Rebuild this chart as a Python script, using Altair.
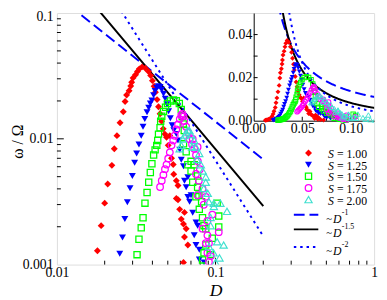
import altair as alt
import pandas as pd

# ---------------- data ----------------
series_labels = ["1.00", "1.25", "1.50", "1.75", "2.00"]

D_100 = [0.012, 0.013, 0.014, 0.015, 0.016, 0.017, 0.0180, 0.0190, 0.0200, 0.0209, 0.0222, 0.0230, 0.0239,
         0.0250, 0.0262, 0.0269, 0.0275, 0.0285, 0.0292, 0.0296, 0.0302, 0.0313, 0.0322, 0.0331, 0.0344,
         0.0361, 0.0378, 0.0390, 0.0400, 0.0410, 0.0418, 0.0428, 0.0437, 0.0447, 0.0457,
         0.0468, 0.0479, 0.0491, 0.0503, 0.0515, 0.0528, 0.0541, 0.0545, 0.0566, 0.0580,
         0.0566, 0.0580, 0.0594, 0.0608, 0.0628, 0.0653, 0.0637, 0.0669, 0.0628, 0.0637,
         0.066, 0.069, 0.072]
W_100 = [0.0002, 0.0003, 0.0004, 0.0006, 0.0008, 0.0009, 0.00129, 0.00204, 0.00308, 0.00438, 0.00615, 0.00835, 0.0106,
         0.0134, 0.0164, 0.0198, 0.0223, 0.0241, 0.0263, 0.0282, 0.0305, 0.0323, 0.0343, 0.0360, 0.0373,
         0.0364, 0.0343, 0.0318, 0.0290, 0.0262, 0.0235, 0.0205, 0.0180, 0.0158, 0.0138,
         0.0120, 0.0109, 0.0103, 0.00887, 0.0106, 0.0070, 0.00624, 0.00523, 0.00465, 0.00425,
         0.00336, 0.00328, 0.00275, 0.00230, 0.00210, 0.00193, 0.00166, 0.00143, 0.00104, 0.0026,
         0.0007, 0.0005, 0.0003]

D_125 = [0.020, 0.021, 0.022, 0.023, 0.024, 0.0249, 0.0259, 0.0268, 0.0278, 0.0289, 0.0299, 0.0309, 0.0318,
         0.0329, 0.0340, 0.0349, 0.0358, 0.0370, 0.0379, 0.0388, 0.0397, 0.0407, 0.0416, 0.0426, 0.0436,
         0.0447, 0.0458, 0.0470, 0.0482, 0.0494, 0.0506, 0.0519, 0.0532, 0.0546, 0.0566,
         0.0580, 0.0595, 0.0608, 0.0628, 0.0637, 0.0653, 0.0669, 0.0669, 0.0686, 0.0701,
         0.0718, 0.0753, 0.0771, 0.0734, 0.0753, 0.0790, 0.0790, 0.0846, 0.085, 0.088]
W_125 = [0.0002, 0.0003, 0.0005, 0.0007, 0.0009, 0.00122, 0.00164, 0.00230, 0.00313, 0.00405, 0.00507, 0.00646, 0.00765,
         0.00903, 0.01058, 0.01247, 0.01436, 0.01626, 0.01765, 0.0191, 0.0202, 0.0222, 0.0240, 0.0255, 0.0262,
         0.0258, 0.0245, 0.0228, 0.0208, 0.0188, 0.0166, 0.0146, 0.0128, 0.0117, 0.0109,
         0.00969, 0.0082, 0.00682, 0.00605, 0.00465, 0.00412, 0.00494, 0.00345, 0.00316, 0.00356,
         0.00258, 0.00216, 0.00204, 0.00171, 0.00143, 0.00131, 0.00110, 0.00104, 0.0007, 0.0004]

D_150 = [0.025, 0.026, 0.027, 0.028, 0.029, 0.030, 0.031, 0.0320, 0.0329, 0.0340,
         0.0349, 0.0359, 0.0370, 0.0379, 0.0388, 0.0397, 0.0407, 0.0416, 0.0426, 0.0432,
         0.0437, 0.0447, 0.0451, 0.0458, 0.0470, 0.0484, 0.0498, 0.0520, 0.0543,
         0.0566, 0.0591, 0.0608, 0.0617, 0.0626, 0.0635, 0.0628, 0.0653, 0.0669, 0.0701,
         0.0701, 0.0718, 0.0771, 0.0734, 0.0771, 0.0753, 0.0785, 0.0817, 0.0790, 0.0828,
         0.0846, 0.0868, 0.1024, 0.1048, 0.1048, 0.0954, 0.0868, 0.0931, 0.0846, 0.0828,
         0.088, 0.092, 0.095]
W_150 = [0.0002, 0.0003, 0.0004, 0.0005, 0.0006, 0.0008, 0.0009, 0.00120, 0.00159, 0.00196,
         0.00236, 0.00308, 0.00374, 0.00451, 0.00540, 0.00634, 0.00743, 0.00817, 0.00887, 0.00969,
         0.0109, 0.01225, 0.0138, 0.0151, 0.0165, 0.0178, 0.0191, 0.0200, 0.0204,
         0.0201, 0.0191, 0.0171, 0.0151, 0.01315, 0.01162, 0.00912, 0.00790, 0.00623, 0.00662,
         0.00555, 0.00451, 0.00507, 0.00623, 0.00412, 0.00346, 0.00356, 0.00316, 0.00275, 0.00236,
         0.00204, 0.00193, 0.00308, 0.00243, 0.00199, 0.00162, 0.00143, 0.00120, 0.00124, 0.00109,
         0.0007, 0.0004, 0.0002]

D_175 = [0.0447, 0.0458, 0.0469, 0.0480, 0.0491, 0.0503, 0.0515, 0.0528, 0.0541, 0.0553, 0.0566, 0.0580,
         0.0595, 0.0608, 0.0618,
         0.0628, 0.0635, 0.0653, 0.0672, 0.0684, 0.0718, 0.0711, 0.0734, 0.0771, 0.0753,
         0.0774, 0.0753, 0.0797, 0.0785, 0.0828, 0.0771, 0.0868, 0.0843, 0.0954, 0.0889,
         0.0828, 0.0889, 0.1048, 0.0909, 0.0868, 0.0889, 0.0931, 0.0909, 0.092, 0.096]
W_175 = [0.00414, 0.00465, 0.00516, 0.00574, 0.00624, 0.00697, 0.00781, 0.00887, 0.00969, 0.01058, 0.01189, 0.01299,
         0.01436, 0.0154, 0.0158,
         0.0151, 0.01386, 0.01247, 0.01122, 0.00997, 0.00997, 0.00907, 0.00835, 0.00861, 0.00743,
         0.00662, 0.00525, 0.00574, 0.00465, 0.00401, 0.00356, 0.00346, 0.00299, 0.00250, 0.00222,
         0.00193, 0.00171, 0.00181, 0.00148, 0.00148, 0.00124, 0.00117, 0.00105, 0.0007, 0.0004]

D_200 = [0.0594, 0.0608, 0.0622, 0.0637, 0.0653, 0.0669,
         0.0684, 0.0701, 0.0734, 0.0711, 0.0753, 0.0790, 0.0763, 0.0808, 0.0831, 0.0868,
         0.0868, 0.0843, 0.0893, 0.0909, 0.0976, 0.1073, 0.1181, 0.0976, 0.0931, 0.0931,
         0.1024, 0.0909, 0.1125, 0.0971, 0.1000, 0.1059, 0.115, 0.120, 0.125]
W_200 = [0.00835, 0.00887, 0.00997, 0.0106, 0.0112, 0.0117,
         0.01162, 0.01082, 0.00969, 0.00861, 0.00861, 0.00765, 0.00685, 0.00623, 0.00555, 0.00498,
         0.00451, 0.00403, 0.00369, 0.00316, 0.00308, 0.00308, 0.00265, 0.00290, 0.00237, 0.00204,
         0.00152, 0.00139, 0.00143, 0.00124, 0.00104, 0.00113, 0.0007, 0.0005, 0.0003]

# power-law guide lines  omega = c * D^(-k)
fit_labels = ["-1", "-1.5", "-2"]
fit_exponents = [1.0, 1.5, 2.0]
fit_prefactors = [0.00137, 0.000261, 0.0000673]
fit_D_range = [0.01, 0.2]

main_x_ticks = [0.01, 0.1, 1]
main_y_ticks = [0.001, 0.01, 0.1]
minor_x = [0.02, 0.03, 0.04, 0.05, 0.06, 0.07, 0.08, 0.09, 0.2, 0.3, 0.4, 0.5, 0.6, 0.7, 0.8, 0.9]
minor_y = [0.002, 0.003, 0.004, 0.005, 0.006, 0.007, 0.008, 0.009, 0.02, 0.03, 0.04, 0.05, 0.06, 0.07, 0.08, 0.09]
inset_x_labels = [0.0, 0.05, 0.10]
inset_y_labels = [0.0, 0.02, 0.04]
inset_x_ticks = [0.025, 0.05, 0.075, 0.10]
inset_y_ticks = [0.01, 0.02, 0.03, 0.04]

# ---------------- styling / layout ----------------
FONT = "Liberation Serif"
W, H = 324, 257
IN_X0, IN_H = 201, 110

styles = [
    dict(shape="diamond", filled=True, color="#ff0000", size=50, sw=0),
    dict(shape="triangle-down", filled=True, color="#0000ff", size=50, sw=0),
    dict(shape="square", filled=False, color="#00ff00", size=40, sw=1.3),
    dict(shape="circle", filled=False, color="#ff00ff", size=45, sw=1.3),
    dict(shape="triangle-up", filled=False, color="#40e0d0", size=55, sw=1.2),
]
line_styles = [
    dict(color="#0000ff", dash=[11, 5], width=2),
    dict(color="#000000", dash=[1, 0], width=2),
    dict(color="#0000ff", dash=[2.5, 4], width=2),
]

series_D = [D_100, D_125, D_150, D_175, D_200]
series_W = [W_100, W_125, W_150, W_175, W_200]

xs_main = alt.Scale(type="log", domain=[0.01, 1])
ys_main = alt.Scale(type="log", domain=[0.001, 0.1])
xs_in = alt.Scale(domain=[0, 0.124], range=[IN_X0, W], nice=False, zero=False)
ys_in = alt.Scale(domain=[0, 0.05], range=[IN_H, 0], nice=False, zero=False)

ax_mx = alt.Axis(values=main_x_ticks, format="~g", orient="bottom", ticks=False, domain=False, grid=False,
                 labelFont=FONT, labelFontSize=14, labelColor="black", labelPadding=1, labelFlush=False,
                 title="D", titleFont=FONT, titleFontSize=18, titleFontStyle="italic", titleFontWeight="normal",
                 titleColor="black", titleX=W / 2, titleY=27, titleBaseline="middle", titleAlign="center")
ax_my = alt.Axis(values=main_y_ticks, format="~g", orient="left", ticks=False, domain=False, grid=False,
                 labelFont=FONT, labelFontSize=14, labelColor="black", labelPadding=4, labelFlush=False,
                 labelOffset=alt.condition("datum.value > 0.05", alt.value(4), alt.value(0)),
                 title="ω / Ω", titleFont=FONT, titleFontSize=16, titleFontWeight="normal", titleColor="black",
                 titleX=-40, titleY=131, titleAngle=270, titleBaseline="middle", titleAlign="center")
ax_ix = alt.Axis(values=inset_x_labels, format=".2f", orient="bottom", offset=-(H - IN_H), ticks=False,
                 domain=True, domainColor="black", domainWidth=1, grid=False, labelFont=FONT, labelFontSize=14,
                 labelColor="black", labelPadding=1, labelFlush=False, title=None)
ax_iy = alt.Axis(values=inset_y_labels, format=".2f", orient="left", offset=-IN_X0, ticks=False,
                 domain=True, domainColor="black", domainWidth=1, grid=False, labelFont=FONT, labelFontSize=14,
                 labelColor="black", labelPadding=2, labelFlush=False, title=None)


def mx(f="D"):
    return alt.X(f"{f}:Q", scale=xs_main, axis=ax_mx)


def my(f="W"):
    return alt.Y(f"{f}:Q", scale=ys_main, axis=ax_my)


def ix(f="D"):
    return alt.X(f"{f}:Q", scale=xs_in, axis=ax_ix)


def iy(f="W"):
    return alt.Y(f"{f}:Q", scale=ys_in, axis=ax_iy)


dummy = pd.DataFrame({"a": [0]})


def label(txt, x, y, size=12, italic=False):
    kw = dict(font=FONT, fontSize=size, align="left", baseline="middle", color="black")
    if italic:
        kw["fontStyle"] = "italic"
    return alt.Chart(dummy).mark_text(**kw).encode(x=alt.value(x), y=alt.value(y), text=alt.value(txt))


# ---------------- main plot ----------------
main_layers = []

# inward ticks
for vals, ln in [([0.1], 7), (minor_x, 4)]:
    main_layers.append(alt.Chart(pd.DataFrame({"D": vals})).mark_rule(color="black", strokeWidth=1)
                       .encode(x=mx(), y=alt.value(H), y2=alt.value(H - ln)))
for vals, ln in [([0.01], 7), (minor_y, 4)]:
    main_layers.append(alt.Chart(pd.DataFrame({"W": vals})).mark_rule(color="black", strokeWidth=1)
                       .encode(y=my(), x=alt.value(0), x2=alt.value(ln)))

# guide lines
for c, k, ls in zip(fit_prefactors, fit_exponents, line_styles):
    df = pd.DataFrame({"D": fit_D_range, "W": [c * d ** (-k) for d in fit_D_range]})
    main_layers.append(alt.Chart(df).mark_line(color=ls["color"], strokeDash=ls["dash"], strokeWidth=ls["width"],
                                               clip=True).encode(x=mx(), y=my()))

# scatter series
for Ds, Ws, st in zip(series_D, series_W, styles):
    df = pd.DataFrame({"D": Ds, "W": Ws})
    main_layers.append(alt.Chart(df).mark_point(shape=st["shape"], filled=st["filled"], color=st["color"],
                                                size=st["size"], strokeWidth=st["sw"], opacity=1, clip=True)
                       .encode(x=mx(), y=my()))

# legend
LX_MARK, LX_TEXT, LX_EQ = 257, 277, 286
row_y0, row_dy = 143, 11.9
for i, (lab, st) in enumerate(zip(series_labels, styles)):
    yy = row_y0 + i * row_dy
    main_layers.append(alt.Chart(dummy).mark_point(shape=st["shape"], filled=st["filled"], color=st["color"],
                                                   size=st["size"], strokeWidth=st["sw"], opacity=1)
                       .encode(x=alt.value(LX_MARK), y=alt.value(yy)))
    main_layers.append(label("S", LX_TEXT, yy + 1, italic=True))
    main_layers.append(label("= " + lab, LX_EQ, yy + 1))

line_rows = [206, 221, 239]
for lab, ls, yy in zip(fit_labels, line_styles, line_rows):
    main_layers.append(alt.Chart(dummy).mark_rule(color=ls["color"], strokeDash=ls["dash"], strokeWidth=ls["width"])
                       .encode(x=alt.value(242), x2=alt.value(267), y=alt.value(yy)))
    main_layers.append(label("~", 275, yy + 4, size=11))
    main_layers.append(label("D", 282, yy + 4, size=12, italic=True))
    main_layers.append(label(lab, 291, yy - 2, size=8))

main = alt.layer(*main_layers)

# ---------------- inset ----------------
inset_layers = []
inset_layers.append(alt.Chart(pd.DataFrame({"D": inset_x_ticks})).mark_rule(color="black", strokeWidth=1)
                    .encode(x=ix(), y=alt.value(IN_H), y2=alt.value(IN_H - 4)))
inset_layers.append(alt.Chart(pd.DataFrame({"W": inset_y_ticks})).mark_rule(color="black", strokeWidth=1)
                    .encode(y=iy(), x=alt.value(IN_X0), x2=alt.value(IN_X0 + 4)))

for c, k, ls in zip(fit_prefactors, fit_exponents, line_styles):
    inset_layers.append(alt.Chart(alt.sequence(0.02, 0.13, 0.0005, as_="D"))
                        .transform_calculate(W=f"{c} * pow(datum.D, {-k})")
                        .mark_line(color=ls["color"], strokeDash=ls["dash"], strokeWidth=ls["width"], clip=True)
                        .encode(x=ix(), y=iy()))

for Ds, Ws, st in zip(series_D, series_W, styles):
    df = pd.DataFrame({"D": Ds, "W": Ws})
    inset_layers.append(alt.Chart(df).mark_point(shape=st["shape"], filled=st["filled"], color=st["color"],
                                                 size=st["size"] * 0.5, strokeWidth=st["sw"] * 0.8, opacity=1,
                                                 clip=True)
                        .encode(x=ix(), y=iy()))

inset = alt.layer(*inset_layers)

chart = (alt.layer(main, inset)
         .resolve_scale(x="independent", y="independent")
         .properties(width=W, height=H, autosize=alt.AutoSizeParams(type="none"),
                     padding={"left": 50, "top": 2, "right": 5, "bottom": 32})
         .configure_view(stroke="black", strokeWidth=1)
         .configure(background="white"))

chart.save("out.html", embed_options={"renderer": "svg", "actions": False})
